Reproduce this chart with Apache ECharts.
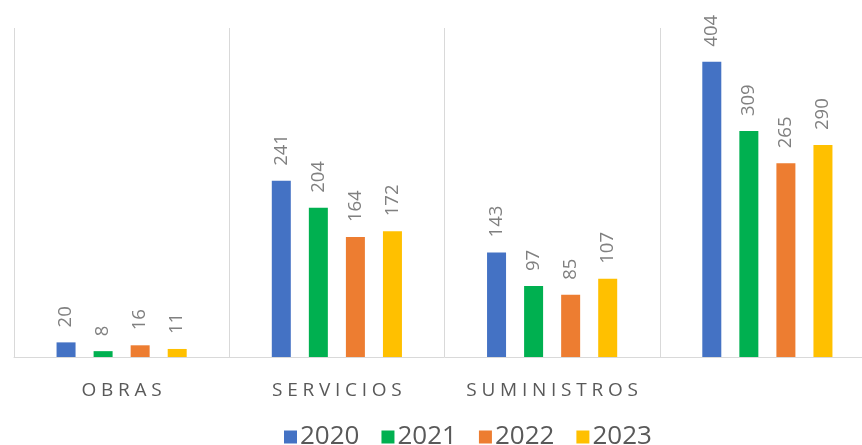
<!DOCTYPE html>
<html>
<head>
<meta charset="utf-8">
<script src="https://cdn.jsdelivr.net/npm/echarts@6/dist/echarts.min.js"></script>
<style>html,body{margin:0;padding:0;background:#fff;overflow:hidden}#c{width:875px;height:445px}</style>
</head>
<body>
<div id="c"></div>
<script>
const categories = ['OBRAS', 'SERVICIOS', 'SUMINISTROS', ''];
const seriesNames = ['2020', '2021', '2022', '2023'];
const values2020 = [20, 241, 143, 404];
const values2021 = [8, 204, 97, 309];
const values2022 = [16, 164, 85, 265];
const values2023 = [11, 172, 107, 290];
const colors = ['#4472C4', '#00B050', '#ED7D31', '#FFC000'];
const allValues = [values2020, values2021, values2022, values2023];

const chart = echarts.init(document.getElementById('c'), null, {renderer: 'canvas'});
const font = '"Open Sans", "DejaVu Sans", sans-serif';
chart.setOption({
  animation: false,
  textStyle: {fontFamily: font},
  grid: {left: 14, right: 0, top: 28, bottom: 88, containLabel: false},
  legend: {
    data: seriesNames,
    left: 284,
    top: 424,
    padding: 0,
    itemWidth: 13,
    itemHeight: 13,
    itemGap: 22,
    icon: 'rect',
    textStyle: {fontSize: 26, color: '#595959', fontFamily: font, lineHeight: 13, padding: [0, 0, 0, -2]}
  },
  xAxis: {
    type: 'category',
    data: categories,
    axisTick: {show: false},
    axisLine: {lineStyle: {color: '#d9d9d9', width: 1}},
    splitLine: {show: true, interval: 0, lineStyle: {color: '#d9d9d9', width: 1}},
    axisLabel: {
      interval: 0,
      color: '#595959',
      fontSize: 19,
      margin: 24,
      fontFamily: font,
      formatter: v => v.split('').join('\u2005')
    }
  },
  yAxis: {type: 'value', min: 0, max: 450, show: false, splitLine: {show: false}},
  series: seriesNames.map((n, i) => ({
    name: n,
    type: 'bar',
    data: allValues[i],
    barWidth: 19,
    barGap: '95%',
    itemStyle: {color: colors[i]},
    label: {
      show: true,
      position: 'top',
      rotate: 90,
      align: 'left',
      verticalAlign: 'middle',
      distance: 15,
      color: '#808080',
      fontSize: 18.5,
      fontFamily: font
    }
  }))
});
</script>
</body>
</html>
